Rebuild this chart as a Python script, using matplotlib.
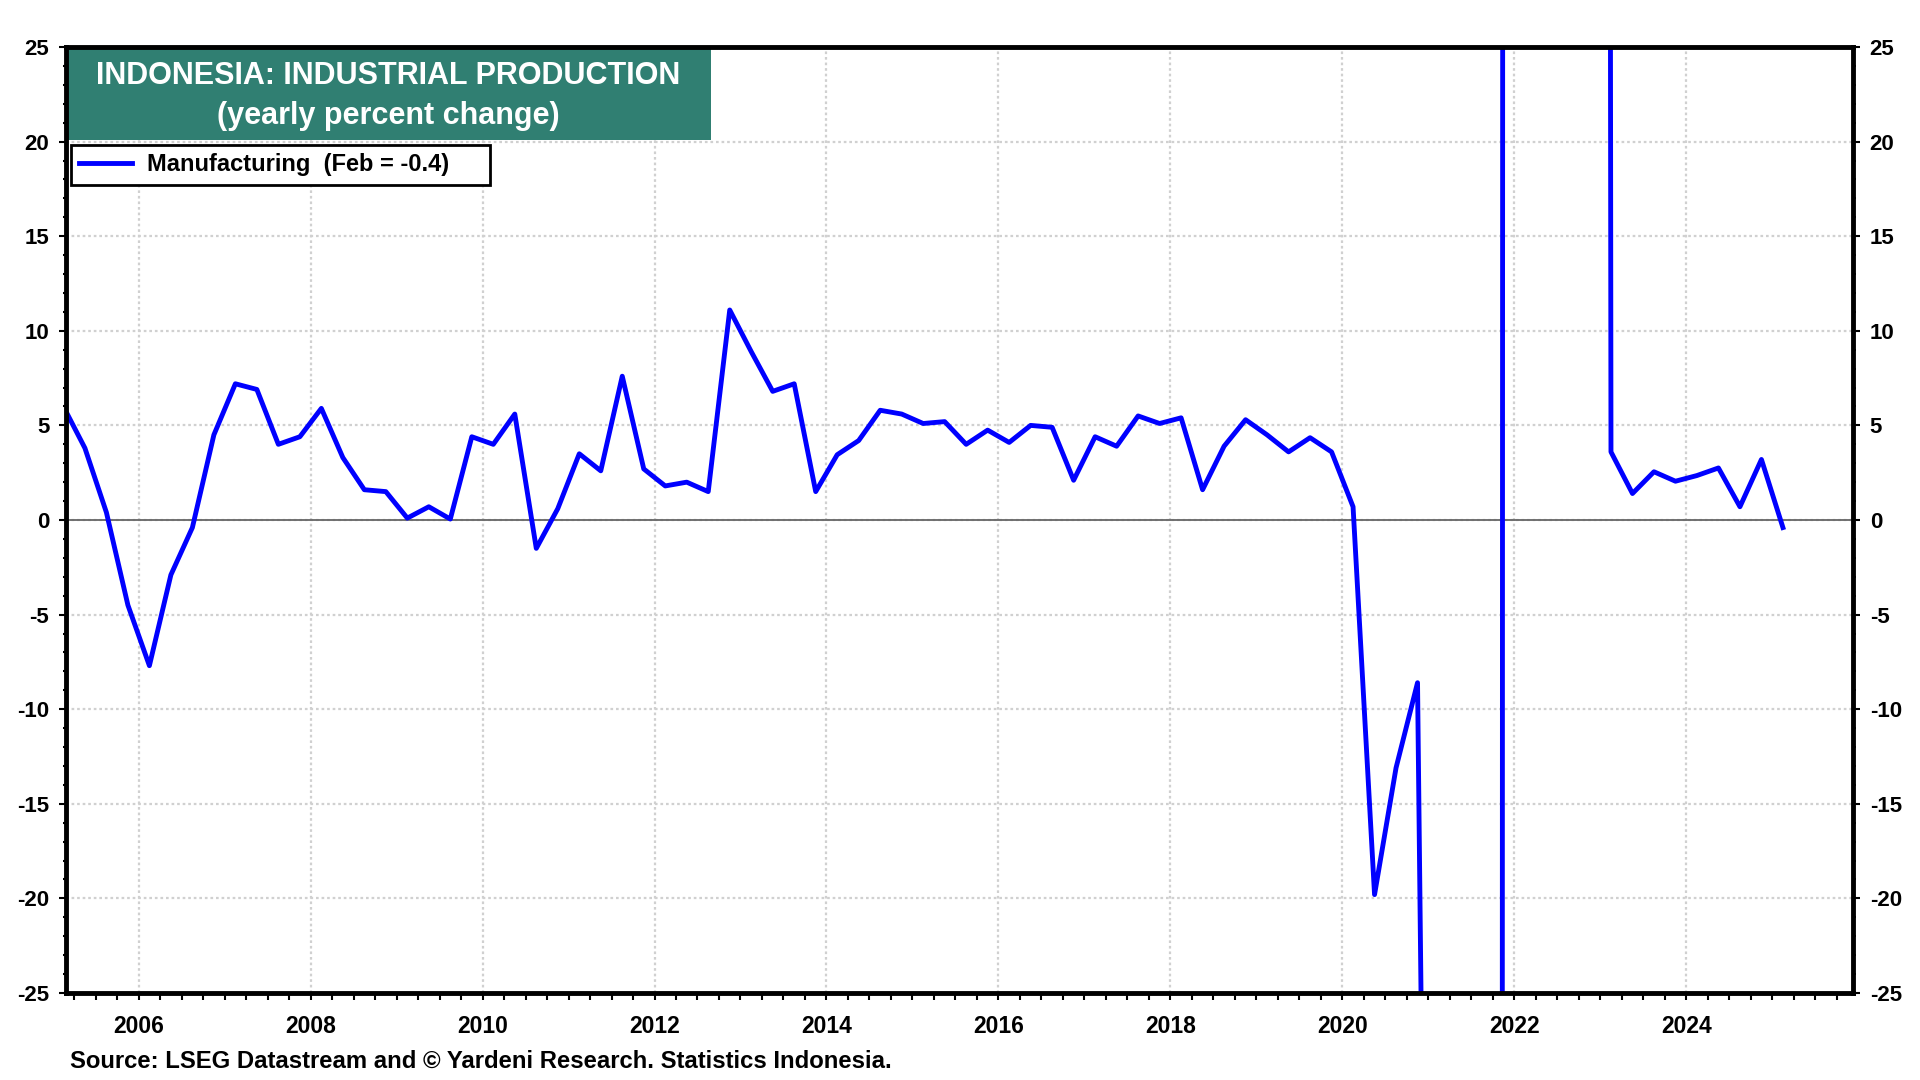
import matplotlib
matplotlib.use("Agg")
import matplotlib.pyplot as plt
import matplotlib.patches as pat
from matplotlib.ticker import MultipleLocator, FuncFormatter

plt.rcParams['font.family'] = ['Liberation Sans', 'DejaVu Sans']
plt.rcParams['font.weight'] = 'bold'
plt.rcParams['axes.unicode_minus'] = False

# quarterly readings, Feb 2005 .. Feb 2025 (Feb/May/Aug/Nov)
first_year = 2005
first_month = 2
n_obs = 81

# yearly percent change, manufacturing (2021-22 values run far off the scale)
manufacturing = [
    6.0, 3.8, 0.4, -4.5,
    -7.7, -2.9, -0.4, 4.5,
    7.2, 6.9, 4.0, 4.4,
    5.9, 3.3, 1.6, 1.5,
    0.1, 0.7, 0.05, 4.4,
    4.0, 5.6, -1.5, 0.6,
    3.5, 2.6, 7.6, 2.7,
    1.8, 2.0, 1.5, 11.1,
    8.9, 6.8, 7.2, 1.5,
    3.45, 4.2, 5.8, 5.6,
    5.1, 5.2, 4.0, 4.75,
    4.1, 5.0, 4.9, 2.1,
    4.4, 3.9, 5.5, 5.1,
    5.4, 1.6, 3.9, 5.3,
    4.5, 3.6, 4.35, 3.6,
    0.7, -19.8, -13.1, -8.6,
    -110.0, -900.0, -3000.0, 150.0,
    800.0, 900.0, 850.0, 900.0,
    3.6, 1.4, 2.55, 2.05,
    2.35, 2.75, 0.7, 3.2,
    -0.4,
]

title_1 = "INDONESIA: INDUSTRIAL PRODUCTION"
title_2 = "(yearly percent change)"
legend_label = "Manufacturing  (Feb = -0.4)     "
source = "Source: LSEG Datastream and \u00a9 Yardeni Research. Statistics Indonesia."

# decimal year at mid-month for each observation
t = []
for i in range(n_obs):
    m0 = (first_month - 1) + 3 * i
    t.append(first_year + m0 // 12 + (m0 % 12 + 0.5) / 12)

fig = plt.figure(figsize=(19.2, 10.8), dpi=100)
ax = fig.add_axes([66 / 1920, 1 - 993 / 1080, (1853 - 66) / 1920, (993 - 47) / 1080])

ax.plot(t, manufacturing, color="#0000ff", lw=3.5, label=legend_label, zorder=3)
ax.axhline(0, color="#666666", lw=1.3, zorder=2)

ax.set_xlim(2005.155, 2025.94)
ax.set_ylim(-25, 25)

ax.xaxis.set_major_locator(MultipleLocator(2))
ax.xaxis.set_minor_locator(MultipleLocator(0.25))
ax.yaxis.set_major_locator(MultipleLocator(5))
ax.yaxis.set_minor_locator(MultipleLocator(1))
ax.xaxis.set_major_formatter(FuncFormatter(lambda v, p: "%d" % round(v)))

ax.grid(True, which="major", color="#d0d0d0", lw=1.6, linestyle=(0, (1.2, 1.3)), zorder=1)

ax.tick_params(axis="y", which="both", left=True, right=True, labelleft=True, labelright=True,
               direction="out", width=1.5, labelsize=16, pad=7)
ax.tick_params(axis="y", which="major", length=5)
ax.tick_params(axis="y", which="minor", length=2.5)
ax.tick_params(axis="x", which="both", bottom=True, top=False, direction="out", width=1.5,
               length=5, labelsize=16.5, pad=11)
for lab in ax.get_xticklabels() + ax.get_yticklabels():
    lab.set_fontweight("bold")

for s in ax.spines.values():
    s.set_linewidth(3.5)
    s.set_color("black")
    s.set_zorder(5)

# title box
ax.add_patch(pat.Rectangle((0, 0.9017), 0.361, 0.0983, transform=ax.transAxes,
                           facecolor="#307f72", edgecolor="none", zorder=4, clip_on=False))
ax.text(0.1805, 0.969, title_1, transform=ax.transAxes, ha="center", va="center",
        color="white", fontsize=22, fontweight="bold", zorder=6)
ax.text(0.1805, 0.927, title_2, transform=ax.transAxes, ha="center", va="center",
        color="white", fontsize=22, fontweight="bold", zorder=6)

leg = ax.legend(loc="upper left", bbox_to_anchor=(0.0028, 0.8964), borderaxespad=0,
                frameon=True, fancybox=False, edgecolor="black", framealpha=1,
                prop={"weight": "bold", "size": 17}, handlelength=2.25,
                handletextpad=0.6, borderpad=0.35)
leg.get_frame().set_linewidth(2)
leg.set_zorder(6)

fig.text(70 / 1920, 1 - 1068 / 1080, source, ha="left", va="baseline", fontsize=17.2, fontweight="bold")

fig.savefig("out.png", dpi=100, facecolor="white")
